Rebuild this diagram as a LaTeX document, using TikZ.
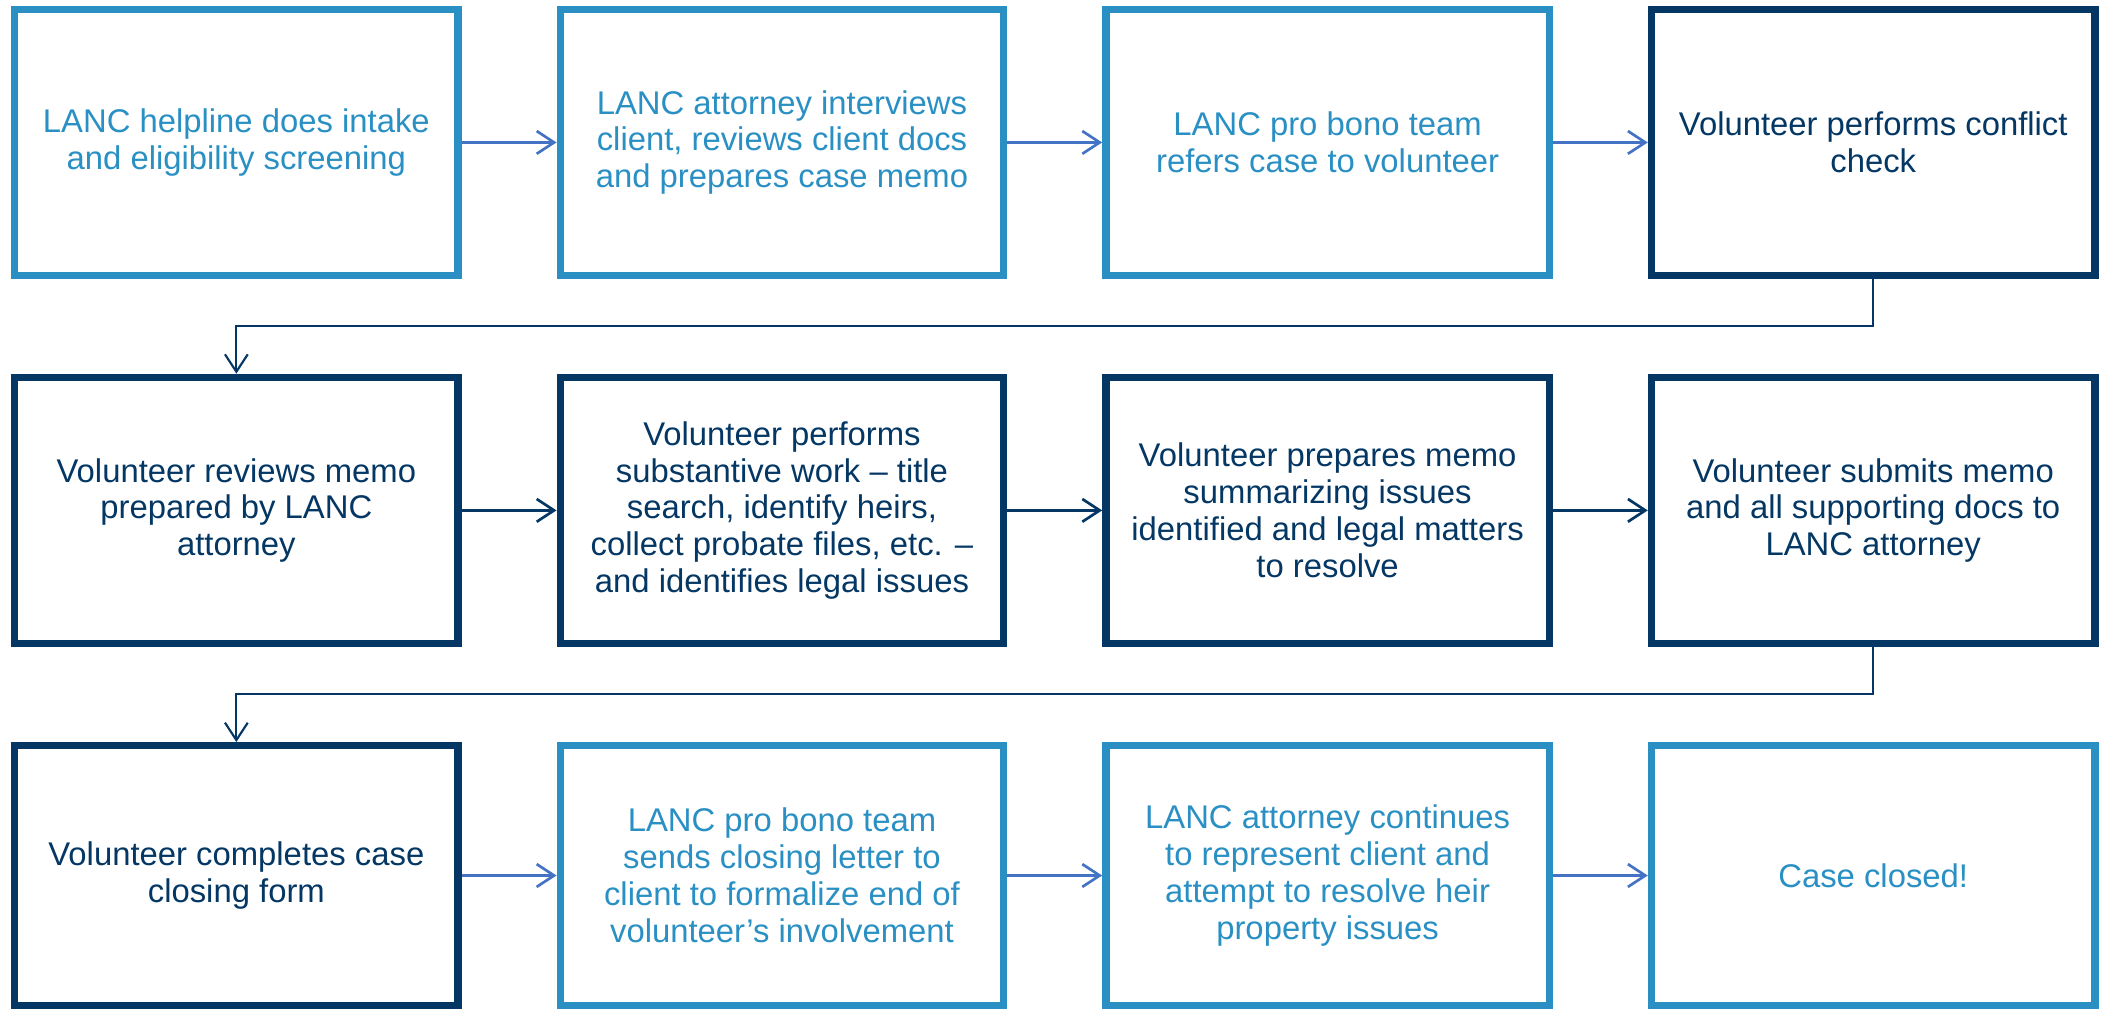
\documentclass[tikz,border=0pt]{standalone}
\usepackage{fontspec}
\setmainfont{Liberation Sans}
\usetikzlibrary{arrows.meta}
\definecolor{lblue}{HTML}{2A90C4}
\definecolor{navy}{HTML}{043763}
\definecolor{arrblue}{HTML}{4472C4}
\begin{document}
\begin{tikzpicture}[x=1pt,y=-1pt,
  box/.style={draw, line width=5.5pt, minimum width=331pt, minimum height=198.5pt,
    align=center, inner sep=0pt, font=\fontsize{24.5pt}{27.5pt}\selectfont},
  lbox/.style={box, draw=lblue, text=lblue},
  nbox/.style={box, draw=navy, text=navy},
  lowrow/.style={minimum height=193.7pt},
  harr/.style={line width=2pt, -{Straight Barb[length=13pt,width=17pt]}},
  barr/.style={harr, draw=arrblue},
  narr/.style={harr, draw=navy},
  conn/.style={draw=navy, line width=1.6pt, -{Straight Barb[length=13pt,width=17pt]}}]
\useasboundingbox (0,0) rectangle (1568,754);
% row 1
\node[lbox] (a1) at (176.4,106.3) {LANC helpline does intake\\and eligibility screening};
\node[lbox] (a2) at (583.6,106.3) {LANC attorney interviews\\client, reviews client docs\\and prepares case memo};
\node[lbox] (a3) at (990.8,106.3) {LANC pro bono team\\refers case to volunteer};
\node[nbox] (a4) at (1398,106.3) {Volunteer performs conflict\\check};
% row 2
\node[nbox] (b1) at (176.4,380.9) {Volunteer reviews memo\\prepared by LANC\\attorney};
\node[nbox] (b2) at (583.6,380.9) {Volunteer performs\\substantive work – title\\search, identify heirs,\\collect probate files, etc. –\\and identifies legal issues};
\node[nbox] (b3) at (990.8,380.9) {Volunteer prepares memo\\summarizing issues\\identified and legal matters\\to resolve};
\node[nbox] (b4) at (1398,380.9) {Volunteer submits memo\\and all supporting docs to\\LANC attorney};
% row 3
\node[nbox,lowrow] (c1) at (176.4,653.4) {Volunteer completes case\\closing form};
\node[lbox,lowrow] (c2) at (583.6,653.4) {LANC pro bono team\\sends closing letter to\\client to formalize end of\\volunteer’s involvement};
\node[lbox,lowrow] (c3) at (990.8,653.4) {LANC attorney continues\\to represent client and\\attempt to resolve heir\\property issues};
\node[lbox,lowrow] (c4) at (1398,653.4) {Case closed!};
% horizontal arrows
\draw[barr] (a1) -- (a2);
\draw[barr] (a2) -- (a3);
\draw[barr] (a3) -- (a4);
\draw[narr] (b1) -- (b2);
\draw[narr] (b2) -- (b3);
\draw[narr] (b3) -- (b4);
\draw[barr] (c1) -- (c2);
\draw[barr] (c2) -- (c3);
\draw[barr] (c3) -- (c4);
% row connectors
\draw[conn] (a4.south) -- ++(0,35) -| (b1.north);
\draw[conn] (b4.south) -- ++(0,35) -| (c1.north);
\end{tikzpicture}
\end{document}
